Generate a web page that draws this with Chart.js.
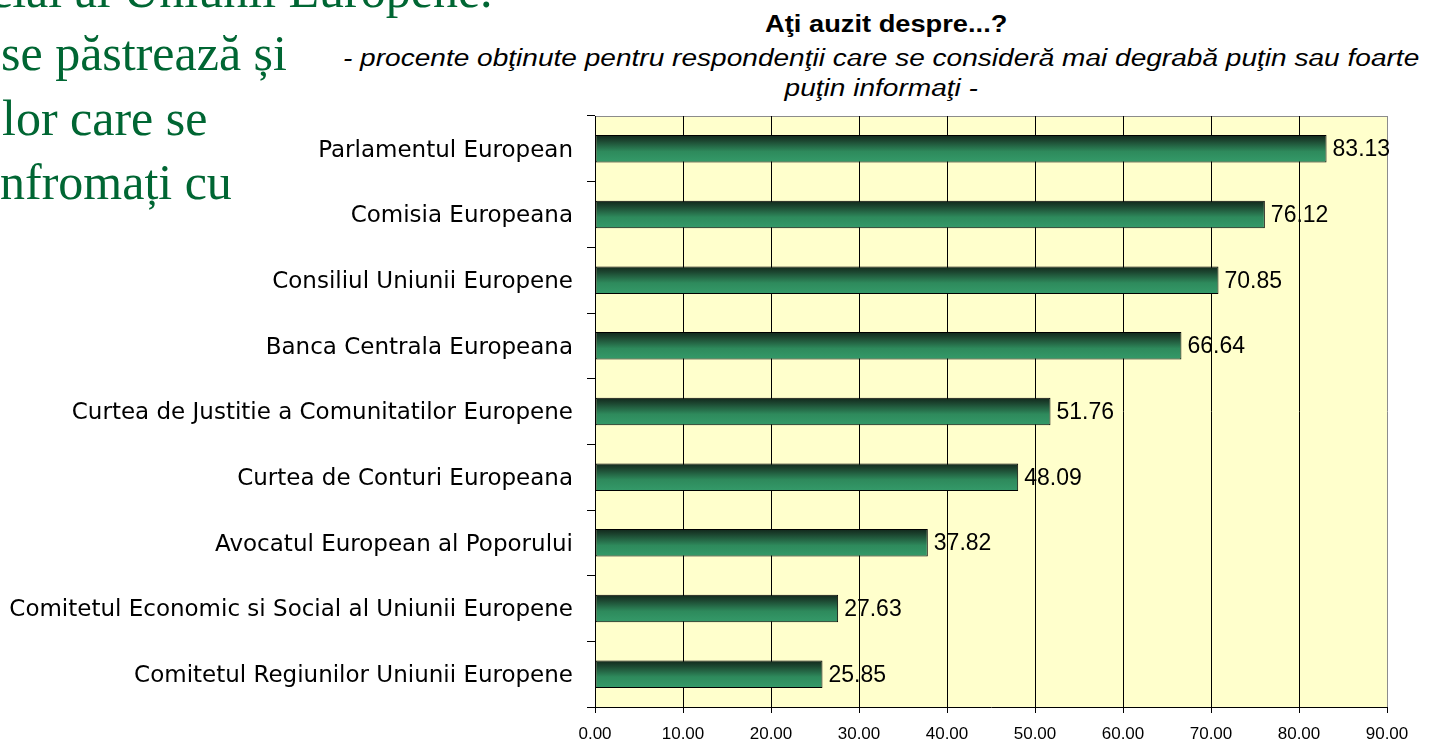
<!DOCTYPE html>
<html>
<head>
<meta charset="utf-8">
<script src="https://cdn.jsdelivr.net/npm/chart.js@4.4.0/dist/chart.umd.min.js"></script>
<style>
    body { margin: 0; width: 1431px; height: 743px; overflow: hidden; background: #fff; position: relative; }
    .slide { position: absolute; font-family: 'Liberation Serif', serif; font-size: 50px; line-height: 64px; color: #006633; white-space: nowrap; }
    .ttl { position: absolute; text-align: center; white-space: nowrap; font-family: 'Liberation Sans', Arial, sans-serif; font-size: 23px; line-height: 29px; color: #000; }
    .ttl span { display: inline-block; transform-origin: center; }
    #chart { position: absolute; left: 0; top: 0; }
</style>
</head>
<body>
<!-- slide text cut off on the left -->
<div class="slide" style="left:-10px; top:-42px">cial al Uniunii Europene.</div>
<div class="slide" style="left:1px; top:21px">se păstrează și</div>
<div class="slide" style="left:2px; top:86px">lor care se</div>
<div class="slide" style="left:0px; top:150px">nfromați cu</div>

<div class="ttl" style="left:486px; width:800px; top:10px; font-weight:bold"><span style="transform:scaleX(1.185)">Aţi auzit despre...?</span></div>
<div class="ttl" style="left:281px; width:1200px; top:44px; font-style:italic"><span style="transform:scaleX(1.22)">- procente obţinute pentru respondenţii care se consideră mai degrabă puţin sau foarte</span></div>
<div class="ttl" style="left:281px; width:1200px; top:74px; font-style:italic"><span style="transform:scaleX(1.22)">puţin informaţi -</span></div>

<canvas id="chart" width="1431" height="743"></canvas>

<script>
// Data
const categories = [
    'Parlamentul European',
    'Comisia Europeana',
    'Consiliul Uniunii Europene',
    'Banca Centrala Europeana',
    'Curtea de Justitie a Comunitatilor Europene',
    'Curtea de Conturi Europeana',
    'Avocatul European al Poporului',
    'Comitetul Economic si Social al Uniunii Europene',
    'Comitetul Regiunilor Uniunii Europene'
];
const values = [83.13, 76.12, 70.85, 66.64, 51.76, 48.09, 37.82, 27.63, 25.85];
const xMin = 0;
const xMax = 90;
const xStep = 10;

// Plot area background + top border (Excel style)
const plotArea = {
    id: 'plotArea',
    beforeDraw(chart) {
        const { ctx, chartArea: a } = chart;
        ctx.save();
        ctx.fillStyle = '#FFFFCC';
        ctx.fillRect(a.left, a.top, a.right - a.left, a.bottom - a.top);
        ctx.strokeStyle = '#8c8c8c';
        ctx.lineWidth = 1;
        ctx.beginPath();
        ctx.moveTo(a.left, a.top + 0.5);
        ctx.lineTo(a.right, a.top + 0.5);
        ctx.stroke();
        ctx.restore();
    }
};

// Value labels at the end of each bar
const valueLabels = {
    id: 'valueLabels',
    afterDatasetsDraw(chart) {
        const ctx = chart.ctx;
        const meta = chart.getDatasetMeta(0);
        ctx.save();
        ctx.font = '23px "Liberation Sans", Arial, sans-serif';
        ctx.fillStyle = '#000';
        ctx.textAlign = 'left';
        ctx.textBaseline = 'middle';
        meta.data.forEach((bar, i) => {
            ctx.fillText(values[i].toFixed(2), bar.x + 6, bar.y + 1);
        });
        ctx.restore();
    }
};

// Vertical gradient for each bar
function barFill(context) {
    const chart = context.chart;
    const yScale = chart.scales.y;
    if (!chart.chartArea || !yScale) return '#339966';
    const c = yScale.getPixelForValue(context.dataIndex);
    const h = 13.5;
    const g = chart.ctx.createLinearGradient(0, c - h, 0, c + h);
    g.addColorStop(0, '#12281c');
    g.addColorStop(0.2, '#1c4630');
    g.addColorStop(0.6, '#2e8a5c');
    g.addColorStop(1, '#349a69');
    return g;
}

new Chart(document.getElementById('chart'), {
    type: 'bar',
    data: {
        labels: categories,
        datasets: [{
            data: values,
            backgroundColor: barFill,
            borderColor: '#000',
            borderWidth: 1,
            borderSkipped: false,
            barPercentage: 0.42,
            categoryPercentage: 1.0
        }]
    },
    options: {
        indexAxis: 'y',
        responsive: false,
        animation: false,
        layout: {
            padding: { top: 116, right: 44, bottom: 0, left: 0 }
        },
        scales: {
            x: {
                min: xMin,
                max: xMax,
                ticks: {
                    stepSize: xStep,
                    color: '#000',
                    padding: 13,
                    font: { family: '"Liberation Sans", Arial, sans-serif', size: 17, lineHeight: 1 },
                    callback: (v) => Number(v).toFixed(2)
                },
                grid: {
                    color: (ctx) => (ctx.tick && ctx.tick.value === xMax ? '#8c8c8c' : '#000'),
                    lineWidth: 1,
                    tickLength: 6,
                    tickColor: '#000'
                },
                border: { color: '#000', width: 1 },
                afterFit: (scale) => { scale.height = 36; }
            },
            y: {
                ticks: {
                    color: '#000',
                    padding: 14,
                    labelOffset: 2,
                    font: { family: '"DejaVu Sans", Tahoma, sans-serif', size: 23 }
                },
                grid: {
                    drawOnChartArea: false,
                    tickLength: 8,
                    color: '#000',
                    offset: true
                },
                border: { color: '#000', width: 1 },
                afterFit: (scale) => { scale.width = 595; }
            }
        },
        plugins: {
            legend: { display: false },
            tooltip: { enabled: false }
        }
    },
    plugins: [plotArea, valueLabels]
});
</script>
</body>
</html>
